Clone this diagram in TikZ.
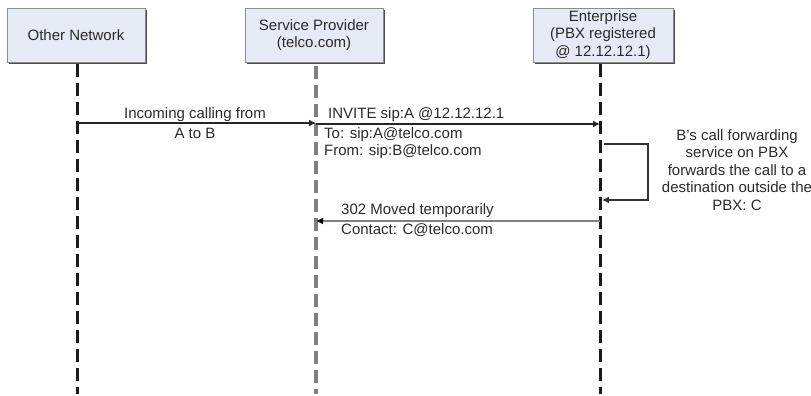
\documentclass[tikz,border=0pt]{standalone}
\usepackage{fontspec}
\setmainfont{Liberation Sans}
\usetikzlibrary{arrows.meta,shadows}
\definecolor{boxfill}{HTML}{E6EAF5}
\definecolor{ink}{HTML}{2A2A2A}
\begin{document}
\begin{tikzpicture}[x=1pt,y=-1pt,
  font=\fontsize{15}{17.5}\selectfont, text=ink,
  actor/.style={draw=black!45, line width=0.8pt, fill=boxfill,
    minimum width=138pt, minimum height=54pt, align=center, inner sep=0pt,
    drop shadow={shadow xshift=1.5pt, shadow yshift=-2pt, fill=black!70, opacity=1}},
  lifeline/.style={line width=3pt, dash pattern=on 13pt off 6pt},
  msg/.style={line width=1.8pt, draw=black!85, -{Latex[length=7pt,width=7pt]}},
  reply/.style={line width=2.8pt, draw=black!50, -{Latex[length=7pt,width=7pt,fill=black,color=black]}},
  selfmsg/.style={line width=2.4pt, draw=black!80, -{Latex[length=7pt,width=7pt]}},
  lbl/.style={inner sep=0pt, align=center},
  lbll/.style={inner sep=0pt, align=left, anchor=west}
]
\useasboundingbox (0,0) rectangle (811,396);

% participants
\node[actor] (on)  at (76,35)  {Other Network};
\node[actor] (sp)  at (314,35) {Service Provider\\(telco.com)};
\node[actor, minimum width=140pt] (ent) at (603,35) {Enterprise\\(PBX registered\\@ 12.12.12.1)};

% lifelines
\coordinate (onTop) at (77,64);   \coordinate (onBot) at (77,394);
\coordinate (spTop) at (316,66);  \coordinate (spBot) at (316,394);
\coordinate (entTop) at (600,64); \coordinate (entBot) at (600,394);
\draw[lifeline, draw=black!90] (onTop) -- (onBot);
\draw[lifeline, draw=black!50, line width=3.6pt] (spTop) -- (spBot);
\draw[lifeline, draw=black!90] (entTop) -- (entBot);

% incoming call
\coordinate (m1a) at (77,123);  \coordinate (m1b) at (316,123);
\draw[msg] (m1a) -- (m1b);
\node[lbl] (m1t) at (195,115) {Incoming calling from};
\node[lbl] (m1u) at (195,133) {A to B};

% INVITE to the PBX
\coordinate (m2a) at (316,124); \coordinate (m2b) at (600,124);
\draw[msg] (m2a) -- (m2b);
\node[lbll] (m2t) at (328,115) {INVITE sip:A @12.12.12.1};
\node[lbll, anchor=north west] (m2u) at (324,127) {To: sip:A@telco.com\\From: sip:B@telco.com};

% call forwarding inside the PBX
\coordinate (f1) at (604,144); \coordinate (f2) at (648,144);
\coordinate (f3) at (648,200); \coordinate (f4) at (602,200);
\draw[selfmsg] (f1) -- (f2) -- (f3) -- (f4);
\node[lbl] (fwd) at (737,170) {B's call forwarding\\service on PBX\\forwards the call to a\\destination outside the\\PBX: C};

% redirect reply
\coordinate (m3a) at (600,221); \coordinate (m3b) at (316,221);
\draw[reply] (m3a) -- (m3b);
\node[lbll] (m3t) at (341,211) {302 Moved temporarily};
\node[lbll] (m3u) at (341,230) {Contact: C@telco.com};
\end{tikzpicture}
\end{document}
